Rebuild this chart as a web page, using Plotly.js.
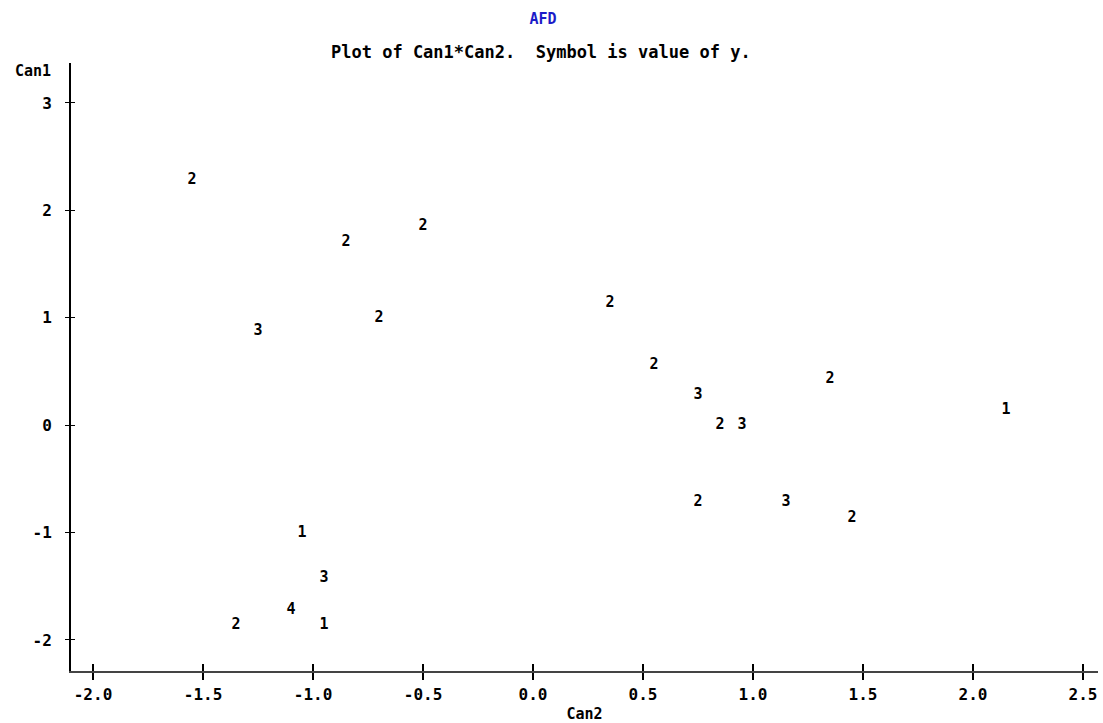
<!DOCTYPE html>
<html>
<head>
<meta charset="utf-8">
<script src="https://cdn.plot.ly/plotly-3.0.1.min.js"></script>
<style>html,body{margin:0;padding:0;background:#fff;}#chart{width:1103px;height:723px;}</style>
</head>
<body>
<div id="chart"></div>
<script>
// Data (Can2 on x, Can1 on y, symbol = value of y)
var can2 = [-1.55, -0.85, -0.50, -0.70, -1.25, 0.35, 0.55, 0.75, 0.85, 0.95, 1.35, 2.15, 0.75, 1.15, 1.45, -1.05, -0.95, -1.10, -1.35, -0.95];
var can1 = [2.28, 1.70, 1.855, 1.00, 0.87, 1.135, 0.56, 0.28, 0.00, 0.00, 0.43, 0.14, -0.72, -0.72, -0.865, -1.005, -1.43, -1.72, -1.86, -1.86];
var yval = ["2", "2", "2", "2", "3", "2", "2", "3", "2", "3", "2", "1", "2", "3", "2", "1", "3", "4", "2", "1"];

var xTickVals = [-2.0, -1.5, -1.0, -0.5, 0.0, 0.5, 1.0, 1.5, 2.0, 2.5];
var xTickText = ["-2.0", "-1.5", "-1.0", "-0.5", "0.0", "0.5", "1.0", "1.5", "2.0", "2.5"];
var yTickVals = [-2, -1, 0, 1, 2, 3];
var yTickText = ["-2", "-1", "0", "1", "2", "3"];

var mono = "DejaVu Sans Mono, Liberation Mono, monospace";
var xr = [-2.1, 2.568];
var yr = [-2.289, 3.372];

var traces = [
  {
    type: "scatter", mode: "text",
    x: can2, y: can1, text: yval,
    textposition: "middle center",
    textfont: {family: mono, size: 15, color: "#000", weight: "bold"},
    hoverinfo: "skip", showlegend: false
  },
  {
    type: "scatter", mode: "markers", x: [], y: [],
    xaxis: "x2", yaxis: "y2", showlegend: false, hoverinfo: "skip"
  }
];

var layout = {
  width: 1103, height: 723,
  paper_bgcolor: "#fff", plot_bgcolor: "#fff",
  margin: {l: 71, r: 5, t: 63, b: 52, pad: 0},
  showlegend: false,
  title: {
    text: "AFD",
    font: {family: mono, size: 15, color: "#1c1cc8", weight: "bold"},
    xref: "container", yref: "container",
    x: 543 / 1103, xanchor: "center",
    y: 1 - 19 / 723, yanchor: "middle"
  },
  xaxis: {
    range: xr, showgrid: false, zeroline: false,
    showline: true, linecolor: "#444", linewidth: 2,
    ticks: "outside", ticklen: 7, tickwidth: 2, tickcolor: "#000",
    tickmode: "array", tickvals: xTickVals, ticktext: xTickText,
    tickfont: {family: mono, size: 16, color: "#000", weight: "bold"},
    ticklabelstandoff: 1,
    title: {text: "Can2", font: {family: mono, size: 15, color: "#000", weight: "bold"}, standoff: 13},
    automargin: false, fixedrange: true
  },
  yaxis: {
    range: yr, showgrid: false, zeroline: false,
    showline: true, linecolor: "#000", linewidth: 2,
    ticks: "outside", ticklen: 4, tickwidth: 1, tickcolor: "#000",
    tickmode: "array", tickvals: yTickVals, ticktext: yTickText,
    tickfont: {family: mono, size: 16, color: "#000", weight: "bold"},
    ticklabelstandoff: 10,
    automargin: false, fixedrange: true
  },
  xaxis2: {
    overlaying: "x", anchor: "y", side: "bottom", range: xr,
    showgrid: false, zeroline: false, showline: false,
    ticks: "inside", ticklen: 7, tickwidth: 2, tickcolor: "#000",
    tickmode: "array", tickvals: xTickVals, showticklabels: false, fixedrange: true
  },
  yaxis2: {
    overlaying: "y", anchor: "x", side: "left", range: yr,
    showgrid: false, zeroline: false, showline: false,
    ticks: "inside", ticklen: 4, tickwidth: 1, tickcolor: "#000",
    tickmode: "array", tickvals: yTickVals, showticklabels: false, fixedrange: true
  },
  annotations: [
    {
      text: "Plot of Can1*Can2.  Symbol is value of y.",
      xref: "paper", yref: "paper",
      x: (541 - 71) / (1098 - 71), y: (671 - 52) / (671 - 63),
      xanchor: "center", yanchor: "middle", showarrow: false,
      font: {family: mono, size: 17, color: "#000", weight: "bold"}
    },
    {
      text: "Can1",
      xref: "paper", yref: "paper",
      x: (33 - 71) / (1098 - 71), y: (671 - 71) / (671 - 63),
      xanchor: "center", yanchor: "middle", showarrow: false,
      font: {family: mono, size: 15, color: "#000", weight: "bold"}
    }
  ]
};

Plotly.newPlot("chart", traces, layout, {displayModeBar: false, staticPlot: true});
</script>
</body>
</html>
